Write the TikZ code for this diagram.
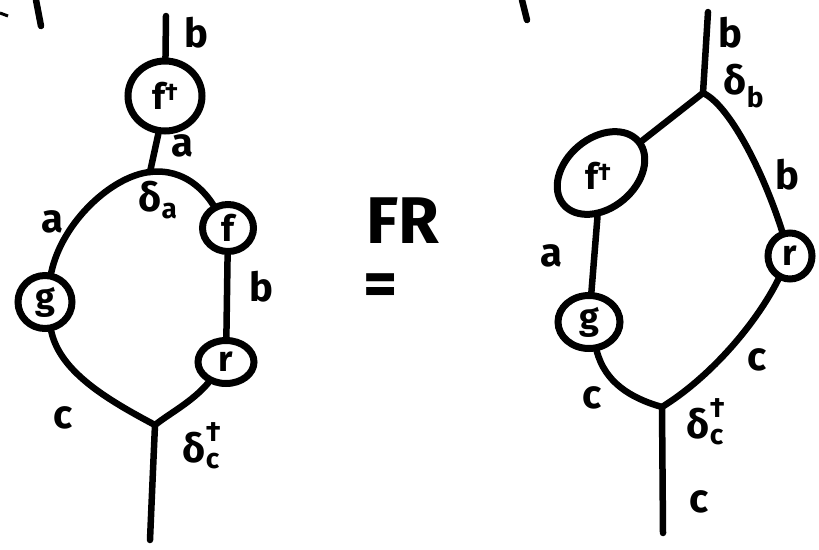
\documentclass[tikz,border=0pt]{standalone}
\usepackage{fontspec}
\setmainfont{Fira Sans}
\usepackage{amsmath}
\usetikzlibrary{shapes.geometric}
\newcommand{\fdag}{f\raisebox{9pt}{\fontsize{24}{24}\selectfont †}}
\begin{document}
\begin{tikzpicture}[x=1pt,y=-1pt,
  wire/.style={line width=6.5pt, line cap=round, line join=round},
  box/.style={draw, ellipse, line width=7pt, inner sep=0pt, font=\fontsize{36}{36}\bfseries\selectfont},
  lab/.style={font=\fontsize{40}{40}\bfseries\selectfont, inner sep=0pt},
  big/.style={font=\fontsize{66}{66}\bfseries\selectfont, inner sep=0pt}]
\useasboundingbox (0,0) rectangle (819,549);

% stray marks at the top edge
\draw[wire] (36,0) -- (41,26);
\draw[line width=3pt] (0,13) -- (8,16);
\draw[wire] (522,0) .. controls (524,10) .. (527,20);

% ---------- left diagram ----------
\coordinate (lbtop) at (166,16);
\node[box, minimum width=74pt, minimum height=70pt] (fd1) at (165,96) {\fdag};
\coordinate (ja) at (150,172);
\node[box, minimum width=54pt, minimum height=53pt] (g1) at (45,302) {g};
\node[box, minimum width=51pt, minimum height=47pt] (f1) at (228,228) {f};
\node[box, minimum width=56pt, minimum height=43pt] (r1) at (226,362) {r};
\coordinate (jc) at (155,425);
\coordinate (lbot) at (150,540);

\draw[wire] (lbtop) -- (fd1);
\draw[wire] (fd1.-100) -- (ja);
\draw[wire] (ja) .. controls (112,176) and (62,222) .. (g1);
\draw[wire] (ja) .. controls (185,168) and (205,192) .. (f1);
\draw[wire] (f1) -- (r1);
\draw[wire] (r1) .. controls (192,402) and (170,413) .. (jc);
\draw[wire] (g1) .. controls (60,372) and (108,400) .. (jc);
\draw[wire] (jc) .. controls (153,470) .. (lbot);

\node[lab] (lb1) at (196,33) {b};
\node[lab] (la1) at (182,146) {a};
\node[lab] (lda) at (158,200) {δ\textsubscript{a}};
\node[lab] (la2) at (52,222) {a};
\node[lab] (lb2) at (261,287) {b};
\node[lab] (lc1) at (63,418) {c};
\node[lab] (ldc) at (202,446) {$\text{δ}_{\text{c}}^{\text{†}}$};

% ---------- middle ----------
\node[big] (fr) at (403,221) {FR};
\node[big] (eq) at (381,290) {=};

% ---------- right diagram ----------
\coordinate (rbtop) at (708,12);
\coordinate (jb) at (703,93);
\node[box, minimum width=98pt, minimum height=70pt, rotate=40] (fd2) at (601,173) {};
\node[font=\fontsize{36}{36}\bfseries\selectfont, inner sep=0pt] (fd2t) at (598,176) {\fdag};
\node[box, minimum width=62pt, minimum height=53pt] (g2) at (589,322) {g};
\node[box, minimum width=44pt, minimum height=46pt] (r2) at (790,256) {r};
\coordinate (jc2) at (662,407);
\coordinate (rbot) at (663,533);

\draw[wire] (rbtop) -- (jb);
\draw[wire] (jb) -- (fd2);
\draw[wire] (fd2) -- (g2);
\draw[wire] (g2) .. controls (605,382) and (630,398) .. (jc2);
\draw[wire] (jb) .. controls (728,104) and (762,168) .. (r2);
\draw[wire] (r2) .. controls (757,322) and (712,376) .. (jc2);
\draw[wire] (jc2) -- (rbot);

\node[lab] (rlb1) at (730,33) {b};
\node[lab] (rldb) at (744,86) {δ\textsubscript{b}};
\node[lab] (rlb2) at (787,175) {b};
\node[lab] (rla) at (551,256) {a};
\node[lab] (rlc1) at (592,398) {c};
\node[lab] (rlc2) at (757,360) {c};
\node[lab] (rldc) at (706,422) {$\text{δ}_{\text{c}}^{\text{†}}$};
\node[lab] (rlc3) at (699,502) {c};
\end{tikzpicture}
\end{document}
